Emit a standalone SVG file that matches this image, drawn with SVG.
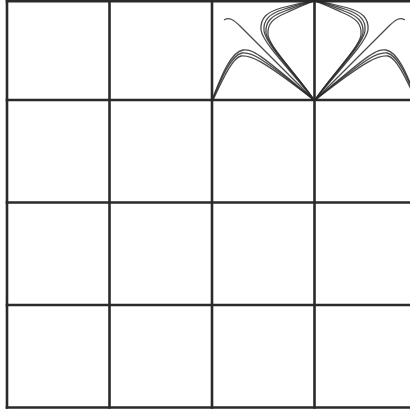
<svg xmlns="http://www.w3.org/2000/svg" width="410" height="413" viewBox="0 0 410 413">
<style>
.grid{stroke:#2a2a2a;stroke-width:2.6;fill:none}
.c{stroke:#2a2a2a;stroke-width:1.3;fill:none;stroke-opacity:0.85}
</style>
<defs>
<g id="half">
<path class="c" d="M212,100 C220,80 230,52 243,50 C252,49 258,52 314,100"/>
<path class="c" d="M212.5,100 C221,79 231,55 242,53 C251,52 259,55 314,100"/>
<path class="c" d="M213,100 C222,81 232,58 241,56 C250,55 260,58 314,100"/>
<path class="c" d="M224,20 C229,17 233,19 240,26 L314,100"/>
<path class="c" d="M314,100 C296,76 263,44 261,30 C260,18 267,12 281,8 C295,4 306,2 314,0.8"/>
<path class="c" d="M314,100 C297,76 266,45 264,31 C263,20 269,14 283,9.5 C296,5 306,3 314,0.8"/>
<path class="c" d="M314,100 C298,76 268,46 266,33 C265,22 271,16 285,11 C297,6 306,3.5 314,0.8"/>
<path class="c" d="M314,100 C299,77 270,48 268,35 C267,24 273,18 287,12.5 C298,7 306,4 314,0.8"/>
</g>
</defs>
<rect width="410" height="413" fill="#fff"/>
<g id="grid" class="grid">
<line x1="7" y1="0" x2="7" y2="408.8"/>
<line x1="109.5" y1="0" x2="109.5" y2="408.8"/>
<line x1="212" y1="0" x2="212" y2="408.8"/>
<line x1="314.5" y1="0" x2="314.5" y2="408.8"/>
<line x1="5.7" y1="1.2" x2="410" y2="1.2"/>
<line x1="5.7" y1="100" x2="410" y2="100"/>
<line x1="5.7" y1="202.5" x2="410" y2="202.5"/>
<line x1="5.7" y1="305" x2="410" y2="305"/>
<line x1="5.7" y1="407.5" x2="410" y2="407.5"/>
</g>
<g id="curves">
<use id="left" href="#half"/>
<use id="right" href="#half" transform="matrix(-1 0 0 1 629 0)"/>
</g>
</svg>
